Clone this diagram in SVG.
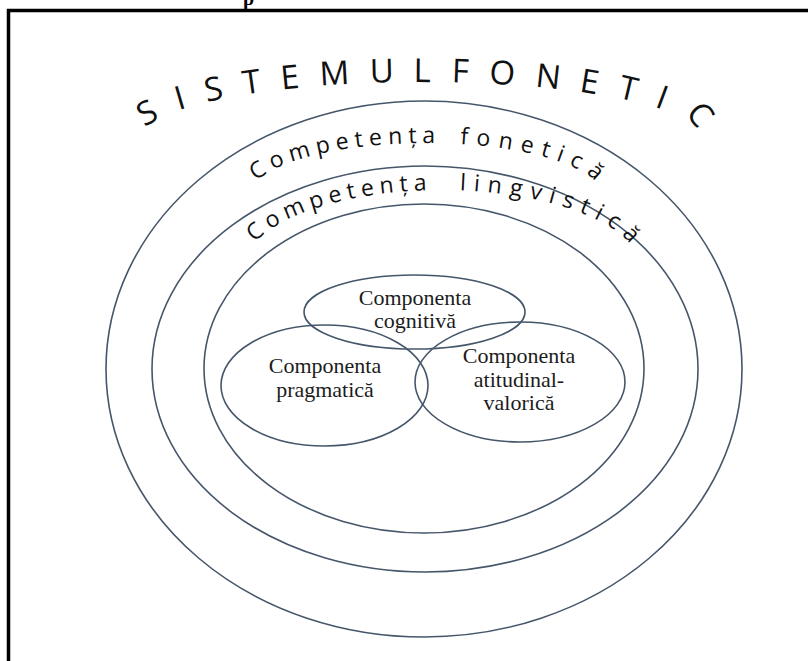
<svg xmlns="http://www.w3.org/2000/svg" width="808" height="661" viewBox="0 0 808 661">
<style>
.ring{fill:none;stroke:#46566a;stroke-width:1.6}
.lbl{font-family:"Liberation Serif","Times New Roman",serif;font-size:22px;fill:#1c1c1c;text-anchor:middle}
.arc{font-family:"Open Sans","Noto Sans",sans-serif;fill:#111}
</style>
<defs>
<path id="p-sys" d="M 143 138 A 279 56 0 0 1 701 138"/>
<path id="p-fon" d="M 248 198 A 178 55 0 0 1 604 198"/>
<path id="p-lin" d="M 242 271 A 200 81 0 0 1 642 271"/>
</defs>
<rect width="808" height="661" fill="#fff"/>
<text x="243" y="5" font-family="Liberation Serif, serif" font-weight="bold" font-size="20" fill="#000">p</text>
<path d="M 8.5 661 L 8.5 10.5 L 808 10.5" fill="none" stroke="#000" stroke-width="3.5"/>
<g id="sistemul-fonetic">
<ellipse class="ring" cx="424" cy="369" rx="318" ry="268"/>
<text class="arc" font-size="33" letter-spacing="20" word-spacing="-28" text-anchor="middle"><textPath href="#p-sys" startOffset="51.7%">SISTEMUL FONETIC</textPath></text>
</g>
<g id="competenta-fonetica">
<ellipse class="ring" cx="425" cy="369" rx="273" ry="203"/>
<text class="arc" font-size="23" text-anchor="middle"><textPath href="#p-fon" startOffset="51%"><tspan letter-spacing="5.9">Competența</tspan><tspan letter-spacing="8" word-spacing="5"> fonetică</tspan></textPath></text>
</g>
<g id="competenta-lingvistica">
<ellipse class="ring" cx="424" cy="368.5" rx="220" ry="164.5"/>
<text class="arc" font-size="23" text-anchor="middle"><textPath href="#p-lin" startOffset="51%"><tspan letter-spacing="5.6">Competența</tspan><tspan letter-spacing="7.8" word-spacing="14"> lingvistică</tspan></textPath></text>
</g>
<g id="componenta-cognitiva">
<ellipse class="ring" cx="414.5" cy="312" rx="110.5" ry="37"/>
<text class="lbl" x="415" y="305">Componenta</text>
<text class="lbl" x="415" y="328">cognitivă</text>
</g>
<g id="componenta-pragmatica">
<ellipse class="ring" cx="324.5" cy="385.5" rx="103.5" ry="60.5"/>
<text class="lbl" x="325" y="373">Componenta</text>
<text class="lbl" x="325" y="397">pragmatică</text>
</g>
<g id="componenta-atitudinal-valorica">
<ellipse class="ring" cx="520" cy="382" rx="105" ry="60"/>
<text class="lbl" x="519" y="363">Componenta</text>
<text class="lbl" x="519" y="387">atitudinal-</text>
<text class="lbl" x="519" y="410">valorică</text>
</g>
<g id="connectors"/>
</svg>
